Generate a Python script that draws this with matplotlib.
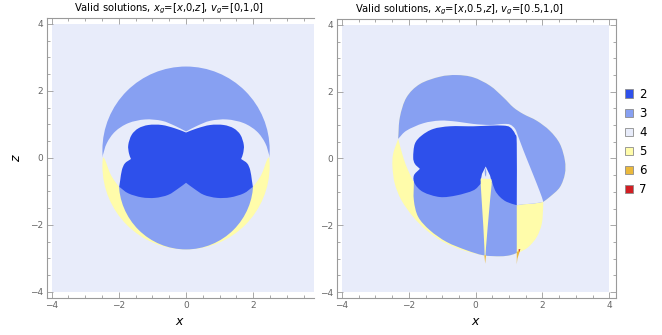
import numpy as np
import matplotlib.pyplot as plt
from matplotlib.patches import Circle, Rectangle, Patch, PathPatch
from matplotlib.path import Path
from matplotlib.ticker import MultipleLocator

# number of valid solutions -> colour
levels = ['2', '3', '4', '5', '6', '7']
level_colors = ['#2e50eb', '#87a0f2', '#e8ecfa', '#fffcaa', '#ebb93c', '#d21e23']
C = dict(zip(levels, level_colors))

titles = [r'Valid solutions, $x_g$=[$x$,0,$z$], $v_g$=[0,1,0]',
          r'Valid solutions, $x_g$=[$x$,0.5,$z$], $v_g$=[0.5,1,0]']

# ---- left panel (symmetric in x), circles are (x, z, radius)
left_outer_up = (0.0, 0.24, 2.49)
left_outer_lo = (0.0, -0.24, 2.49)
left_lower_disk = (0.0, -0.73, 2.0)
left_split_z = 0.04

# left half of the gap (4) round the central blob
left_hole_top_x = [-2.49, -2.36, -2.11, -1.72, -1.22, -0.72, -0.33, 0.0]
left_hole_top_z = [0.04, 0.44, 0.79, 1.04, 1.15, 1.11, 0.96, 0.79]
left_hole_side_x = [-2.41, -2.26, -2.11, -1.99, -1.5, -0.5, 0.0]
left_hole_side_z = [-0.06, -0.46, -0.71, -0.86, -0.8, -0.7, -0.55]

# left half of the central blob (2), from upper cusp round to lower cusp
left_blob_x = [0.0, -0.33, -0.72, -1.12, -1.42, -1.62, -1.72, -1.70, -1.64, -1.82,
               -1.91, -1.96, -1.99, -1.72, -1.32, -0.92, -0.53, -0.23, 0.0]
left_blob_z = [0.76, 0.885, 0.985, 0.985, 0.885, 0.69, 0.39, 0.14, -0.03, -0.16,
               -0.36, -0.66, -0.86, -1.055, -1.175, -1.19, -1.10, -0.91, -0.74]

# ---- right panel outlines (x, z), with indices of sharp corners
r_outline_x = [-2.32, -2.27, -2.07, -1.67, -1.07, -0.57, -0.07, 0.43, 0.83, 1.13, 1.43, 1.83,
               2.22, 2.52, 2.67, 2.67, 2.52, 2.22, 2.02, 2.02, 1.98, 1.83, 1.58, 1.33, 1.23,
               1.03, 0.73, 0.23, -0.37, -0.97, -1.47, -1.87, -2.22, -2.42, -2.49, -2.47]
r_outline_z = [0.59, 1.23, 1.83, 2.23, 2.45, 2.50, 2.43, 2.18, 1.83, 1.53, 1.33, 1.13,
               0.83, 0.44, -0.06, -0.46, -0.86, -1.15, -1.30, -1.45, -1.95, -2.35, -2.65, -2.80, -2.83,
               -2.9, -2.93, -2.9, -2.75, -2.50, -2.15, -1.75, -1.255, -0.76, -0.26, 0.14]
r_outline_corners = [0, 18, 24]

r_upper_x = r_outline_x[:19] + [1.73, 1.43, 1.23, 1.0, -1.5]
r_upper_z = r_outline_z[:19] + [-1.35, -1.37, -1.40, 0.5, 0.5]
r_upper_corners = [0, 18, 21, 22, 23]

r_lower_x = [-1.85, -1.85, -1.72, -1.37, -0.87, -0.27, 0.23, 0.73, 1.03, 1.23, 1.23, 0.0]
r_lower_z = [-0.71, -1.255, -1.75, -2.15, -2.5, -2.75, -2.9, -2.93, -2.9, -2.83, -1.40, 0.0]
r_lower_corners = [0, 9, 10, 11]

r_hole_x = [-2.32, -2.07, -1.57, -1.07, -0.57, -0.07, 0.43, 0.83, 1.03, 1.18, 1.28, 1.43,
            1.63, 1.83, 1.98, 2.02, 1.73, 1.43, 1.23, 0.9, -1.6, -1.85, -2.02, -2.17]
r_hole_z = [0.59, 0.835, 1.055, 1.135, 1.105, 1.035, 1.005, 1.035, 1.015, 0.885, 0.64, 0.24,
            -0.26, -0.76, -1.155, -1.30, -1.35, -1.37, -1.40, -0.6, -0.6, -0.71, -0.36, 0.04]
r_hole_corners = [0, 15, 18, 19, 20, 21]

r_blob_x = [-1.87, -1.82, -1.62, -1.27, -0.77, -0.07, 0.43, 0.83, 1.03, 1.18, 1.23, 1.23,
            0.93, 0.73, 0.58, 0.48, 0.15, -0.07, -0.57, -1.07, -1.57, -1.82, -1.85, -1.67, -1.82]
r_blob_z = [0.04, 0.44, 0.685, 0.885, 0.965, 0.965, 0.985, 0.985, 0.935, 0.735, 0.44, -1.40,
            -1.30, -1.155, -0.955, -0.66, -0.76, -0.955, -1.105, -1.155, -1.005, -0.76, -0.51, -0.31, -0.16]
r_blob_corners = [11, 15, 16, 23]

spike_gap_x = [0.30, 0.43, 0.48, 0.15, 0.19]
spike_gap_z = [-0.24, -0.51, -0.71, -0.66, -0.46]
spike_sliver_x = [0.29, 0.32, 0.31, 0.28, 0.27]
spike_sliver_z = [-0.27, -0.40, -0.55, -0.50, -0.38]
spike_x = [0.15, 0.47, 0.48, 0.43, 0.36, 0.31, 0.29, 0.27, 0.26, 0.23, 0.18, 0.15]
spike_z = [-0.60, -0.62, -0.76, -1.255, -2.05, -2.65, -2.95, -2.95, -2.65, -2.05, -1.255, -0.76]
tip6_x = [[0.26, 0.31, 0.285], [1.23, 1.33, 1.25, 1.23]]
tip6_z = [[-2.9, -2.9, -3.15], [-2.8, -2.75, -3.0, -3.17]]
tip7_x = [1.28, 1.34, 1.30]
tip7_z = [-2.73, -2.71, -2.80]


def smooth_patch(xs, zs, color, corners=()):
    # closed Catmull-Rom outline drawn as cubic Bezier pieces
    p = np.column_stack([xs, zs]).astype(float)
    n = len(p)
    verts, codes = [p[0]], [Path.MOVETO]
    for i in range(n):
        p0, p1, p2, p3 = p[i - 1], p[i], p[(i + 1) % n], p[(i + 2) % n]
        c1 = p1 + (p2 - p1) / 3 if i in corners else p1 + (p2 - p0) / 6
        c2 = p2 - (p2 - p1) / 3 if (i + 1) % n in corners else p2 - (p3 - p1) / 6
        verts += [c1, c2, p2]
        codes += [Path.CURVE4] * 3
    return PathPatch(Path(verts, codes), facecolor=color, edgecolor='none', lw=0)


def mirror_half(xs, zs):
    fx = list(xs) + [-x for x in reversed(xs[1:-1])]
    fz = list(zs) + list(reversed(zs[1:-1]))
    return fx, fz


fig = plt.figure(figsize=(6.62, 3.35), dpi=100)
ax1 = fig.add_axes([0.0705, 0.1104, 0.4038, 0.836])
ax2 = fig.add_axes([0.5086, 0.1104, 0.4219, 0.833])

# left panel
ax1.add_patch(Rectangle((-4, -4), 8, 8, color=C['4'], lw=0))
ax1.add_patch(Circle(left_outer_lo[:2], left_outer_lo[2], color=C['5'], lw=0))
up = Circle(left_outer_up[:2], left_outer_up[2], color=C['3'], lw=0)
ax1.add_patch(up)
up.set_clip_path(Rectangle((-4, left_split_z), 8, 8, transform=ax1.transData))
ax1.add_patch(Circle(left_lower_disk[:2], left_lower_disk[2], color=C['3'], lw=0))

nt = len(left_hole_top_x)
hx = left_hole_top_x + [-x for x in reversed(left_hole_top_x[:-1])] \
    + [-x for x in left_hole_side_x[:-1]] + [0.0] + list(reversed(left_hole_side_x[:-1]))
hz = left_hole_top_z + list(reversed(left_hole_top_z[:-1])) \
    + left_hole_side_z[:-1] + [left_hole_side_z[-1]] + list(reversed(left_hole_side_z[:-1]))
k0 = 2 * nt - 1          # first point of right side
hole_corners = [0, nt - 1, 2 * nt - 2] + list(range(k0 + 3, k0 + 10))
ax1.add_patch(smooth_patch(hx, hz, C['4'], hole_corners))

bx, bz = mirror_half(left_blob_x, left_blob_z)
nb = len(left_blob_x)
blob_corners = [0, 8, 12, nb - 1, len(bx) - 12, len(bx) - 8]
ax1.add_patch(smooth_patch(bx, bz, C['2'], blob_corners))

# right panel
ax2.add_patch(Rectangle((-4, -4), 8, 8, color=C['4'], lw=0))
ax2.add_patch(smooth_patch(r_outline_x, r_outline_z, C['5'], r_outline_corners))
ax2.add_patch(smooth_patch(r_upper_x, r_upper_z, C['3'], r_upper_corners))
ax2.add_patch(smooth_patch(r_lower_x, r_lower_z, C['3'], r_lower_corners))
ax2.add_patch(smooth_patch(r_hole_x, r_hole_z, C['4'], r_hole_corners))
ax2.add_patch(smooth_patch(r_blob_x, r_blob_z, C['2'], r_blob_corners))
ax2.fill(spike_gap_x, spike_gap_z, color=C['4'], lw=0)
ax2.fill(spike_sliver_x, spike_sliver_z, color=C['3'], lw=0)
ax2.fill(spike_x, spike_z, color=C['5'], lw=0)
for tx, tz in zip(tip6_x, tip6_z):
    ax2.fill(tx, tz, color=C['6'], lw=0)
ax2.fill(tip7_x, tip7_z, color=C['7'], lw=0)

frame = '#9a9a9a'
for ax, title, xl, tx in [(ax1, titles[0], (-4.15, 3.81), 0.459),
                          (ax2, titles[1], (-4.16, 4.2), 0.441)]:
    ax.set_xticks([-4, -2, 0, 2, 4])
    ax.set_yticks([-4, -2, 0, 2, 4])
    ax.set_xlim(*xl)
    ax.set_ylim(-4.18, 4.18)
    ax.xaxis.set_minor_locator(MultipleLocator(0.5))
    ax.yaxis.set_minor_locator(MultipleLocator(0.5))
    ax.tick_params(which='both', direction='in', top=True, right=True,
                   color=frame, labelcolor='#666666', labelsize=6.5, width=0.6)
    ax.tick_params(which='major', length=4, pad=2.5)
    ax.tick_params(which='minor', length=2)
    for s in ax.spines.values():
        s.set_color(frame)
        s.set_linewidth(0.8)
    ax.set_title(title, fontsize=7.2, pad=5, x=tx)
    ax.set_xlabel('$x$', fontsize=9, labelpad=3)

ax1.spines['right'].set_visible(False)
ax1.tick_params(which='both', right=False)
ax1.set_ylabel('$z$', fontsize=9, labelpad=5)

handles = [Patch(facecolor=c, edgecolor='#8c8c8c', lw=0.6) for c in level_colors]
fig.legend(handles, levels, loc='center left', bbox_to_anchor=(0.935, 0.576),
           frameon=False, fontsize=8.5, handlelength=0.7, handleheight=0.7,
           handletextpad=0.5, labelspacing=0.52, borderpad=0)

fig.savefig('out.png', dpi=100)
